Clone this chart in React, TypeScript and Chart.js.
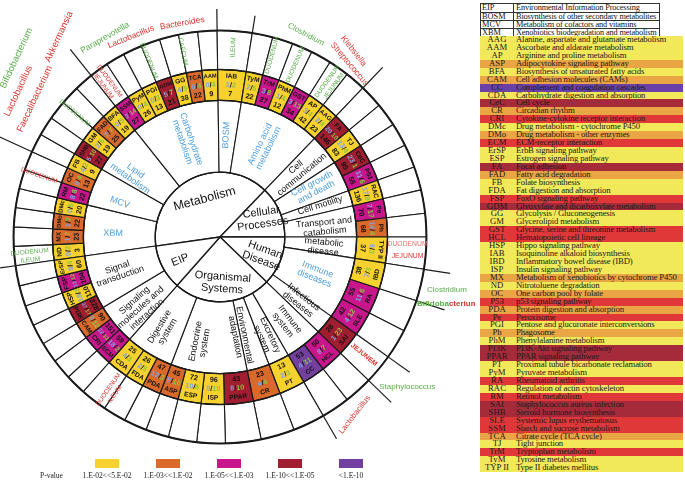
import React, { useEffect, useRef } from "react";
import { Chart, registerables } from "chart.js";

Chart.register(...registerables);

// ---------------- DATA ----------------
const categories = ["Metabolism", "Cellular Processes", "Human Disease", "Organismal Systems", "EIP"];
const categoryText = ["Metabolism", "Cellular\nProcesses", "Human\nDisease", "Organismal\nSystems", "EIP"];

const subcategories = [
  "XBM", "MCV", "Lipid metabolism", "Carbohydrate metabolism", "BOSM", "Amino acid metabolism",
  "Cell communication", "Cell growth and death", "Cell motility", "Transport and catabolism",
  "metabolic disease", "Immune diseases", "Infectious diseases",
  "Immune system", "Excretory system", "Environmental adaptation", "Endocrine system", "Digestive system",
  "Signaling molecules and interaction", "Signal transduction",
];
const subcategoryText = [
  "XBM", "MCV", "Lipid\nmetabolism", "Carbohydrate\nmetabolism", "BOSM", "Amino acid\nmetabolism",
  "Cell\ncommunication", "Cell growth\nand death", "Cell motility", "Transport and\ncatabolism",
  "metabolic\ndisease", "Immune\ndiseases", "Infectious\ndiseases",
  "Immune\nsystem", "Excretory\nsystem", "Environmental\nadaptation", "Endocrine\nsystem", "Digestive\nsystem",
  "Signaling\nmolecules and\ninteraction", "Signal\ntransduction",
];
const subcategoryParent = [0, 0, 0, 0, 0, 0, 1, 1, 1, 1, 2, 2, 2, 3, 3, 3, 3, 3, 4, 4];
const subcategoryBlue = [1, 1, 1, 1, 1, 1, 0, 1, 0, 0, 0, 1, 0, 0, 0, 0, 0, 0, 0, 0];

const pathways = [
  "ND", "MX", "DMo", "DMc", "RM", "OC", "FB", "SHB", "GM", "FAD", "BFA",
  "SSM", "PyM", "PGI", "GDM", "GG", "TCA", "AAM", "IAB",
  "TyM", "TrM", "PhM", "GST", "AP", "AAG",
  "FA", "TJ", "CeC", "P53", "RAC", "Pe", "Ph",
  "TYP II", "IBD", "RA", "SLE", "SAI",
  "HCL", "CC", "PT", "CR", "PPAR", "ISP", "ESP", "ASP", "PDA", "FDA", "CDA",
  "ECM", "CRI", "CAM", "PI3K", "HSP", "FSP", "ErSP",
];
const pathwaySub = [
  0, 0, 0, 0, 1, 1, 1, 2, 2, 2, 2,
  3, 3, 3, 3, 3, 3, 3, 4,
  5, 5, 5, 5, 5, 5,
  6, 6, 7, 7, 8, 9, 9,
  10, 11, 11, 11, 12,
  13, 13, 14, 15, 16, 16, 16, 16, 17, 17, 17,
  18, 18, 18, 19, 19, 19, 19,
];
// angular share of each cell (degrees)
const pathwaySpan = [
  5.4, 5.4, 5.4, 5.4, 5.4, 5.4, 5.4, 5.4, 5.4, 5.4, 5.4,
  5.4, 5.4, 5.4, 5.4, 5.4, 5.4, 5.4, 9.8,
  5.8, 5.8, 5.8, 5.8, 5.8, 5.8,
  6.6, 6.6, 6.6, 6.6, 6.6, 6.6, 6.6,
  9, 9, 9, 8.5, 8.5,
  8, 8, 9, 9.5, 10, 8, 8, 6.5, 6.5, 6.5, 7.5,
  5.8, 5.8, 5.8, 5.8, 5.8, 5.8, 5.7,
];
const countBlue = [
  0, 1, 1, 0, 8, 8, 4, 5, 2, 7, 0,
  2, 0, 0, 5, 4, 6, 0, 1,
  2, 3, 1, 3, 3, 2,
  20, 13, 23, 11, 17, 7, 14,
  6, 7, 11, 4, 1,
  8, 4, 2, 4, 8, 9, 10, 8, 12, 2, 4,
  18, 22, 8, 37, 18, 13, 9,
];
const countGreen = [
  2, 7, 7, 6, 8, 4, 2, 10, 6, 7, 5,
  14, 4, 3, 7, 5, 4, 4, 2,
  5, 8, 4, 13, 4, 4,
  10, 4, 1, 6, 8, 17, 4,
  3, 3, 6, 12, 23,
  7, 31, 3, 4, 10, 10, 6, 10, 3, 5, 3,
  2, 13, 12, 17, 2, 12, 4,
];
const geneTotal = [
  3, 23, 22, 20, 22, 13, 9, 27, 19, 25, 19,
  27, 26, 13, 21, 38, 22, 9, 7,
  22, 27, 12, 34, 42, 23,
  146, 83, 95, 55, 136, 70, 68,
  37, 38, 55, 42, 28,
  50, 53, 13, 23, 43, 96, 72, 45, 47, 26, 25,
  59, 151, 90, 228, 110, 104, 60,
];
// P-value class: 0 yellow, 1 orange, 2 magenta, 3 dark red, 4 purple
const pClass = [
  0, 1, 1, 0, 2, 1, 0, 3, 0, 1, 0,
  2, 0, 0, 3, 0, 1, 0, 0,
  0, 2, 0, 2, 0, 0,
  3, 0, 3, 2, 0, 2, 1,
  0, 0, 2, 2, 3,
  2, 4, 0, 1, 3, 0, 0, 1, 1, 0, 0,
  2, 2, 1, 3, 0, 2, 0,
];
const pClassLabels = ["1.E-02<<5.E-02", "1.E-03<<1.E-02", "1.E-05<<1.E-03", "1.E-10<<1.E-05", "<1.E-10"];

const headerAbbr = ["EIP", "BOSM", "MCV", "XBM"];
const headerName = [
  "Environmental Information Processing",
  "Biosynthesis of other secondary metabolites",
  "Metabolism of cofactors and vitamins",
  "Xenobiotics biodegradation and metabolism",
];
const tableAbbr = [
  "AAG", "AAM", "AP", "ASP", "BFA", "CAM", "CC", "CDA", "CeC", "CR", "CRI", "DMc", "DMo", "ECM", "ErSP",
  "ESP", "FA", "FAD", "FB", "FDA", "FSP", "GDM", "GG", "GM", "GST", "HCL", "HSP", "IAB", "IBD", "ISP",
  "MX", "ND", "OC", "P53", "PDA", "Pe", "PGI", "Ph", "PhM", "PI3K", "PPAR", "PT", "PyM", "RA", "RAC",
  "RM", "SAI", "SHB", "SLE", "SSM", "TCA", "TJ", "TrM", "TyM", "TYP II",
];
const tableName = [
  "Alanine, aspartate and glutamate metabolism", "Ascorbate and aldarate metabolism", "Arginine and proline metabolism",
  "Adipocytokine signaling pathway", "Biosynthesis of unsaturated fatty acids", "Cell adhesion molecules (CAMs)",
  "Complement and coagulation cascades", "Carbohydrate digestion and absorption", "Cell cycle", "Circadian rhythm",
  "Cytokine-cytokine receptor interaction", "Drug metabolism - cytochrome P450", "Drug metabolism - other enzymes",
  "ECM-receptor interaction", "ErbB signaling pathway", "Estrogen signaling pathway", "Focal adhesion",
  "Fatty acid degradation", "Folate biosynthesis", "Fat digestion and absorption", "FoxO signaling pathway",
  "Glyoxylate and dicarboxylate metabolism", "Glycolysis / Gluconeogenesis", "Glycerolipid metabolism",
  "Glycine, serine and threonine metabolism", "Hematopoietic cell lineage", "Hippo signaling pathway",
  "Isoquinoline alkaloid biosynthesis", "Inflammatory bowel disease (IBD)", "Insulin signaling pathway",
  "Metabolism of xenobiotics by cytochrome P450", "Nitrotoluene degradation", "One carbon pool by folate",
  "p53 signaling pathway", "Protein digestion and absorption", "Peroxisome", "Pentose and glucuronate interconversions",
  "Phagosome", "Phenylalanine metabolism", "PI3K-Akt signaling pathway", "PPAR signaling pathway",
  "Proximal tubule bicarbonate reclamation", "Pyruvate metabolism", "Rheumatoid arthritis",
  "Regulation of actin cytoskeleton", "Retinol metabolism", "Staphylococcus aureus infection",
  "Steroid hormone biosynthesis", "Systemic lupus erythematosus", "Starch and sucrose metabolism",
  "Citrate cycle (TCA cycle)", "Tight junction", "Tryptophan metabolism", "Tyrosine metabolism",
  "Type II diabetes mellitus",
];

// ---------------- STYLE ----------------
const ringColors = ["#f7d22e", "#da6a2c", "#c8168d", "#a01e2f", "#7440a0"];
const tableColors = ["#f2e95a", "#eaa544", "#e03838", "#a52b3b", "#6b40a8"];
const LINE = "#1a1a1a";
const SANS = '"Liberation Sans", Arial, sans-serif';
const SERIF = '"Liberation Serif", "Times New Roman", serif';
const SUB_BLUE = "#4e9edc";
const NUM_BLUE = "#7fa3e2";
const NUM_GREEN = "#8cc43e";
const G = "#5aad4b";
const R = "#d8352f";
const R2 = "#e5706c";

const categoryPlace = [
  { th: 338, r: 41, rot: -15, size: 12.5 },
  { th: 66, r: 46, rot: -8, size: 11 },
  { th: 113, r: 47, rot: 20, size: 11 },
  { th: 177, r: 46, rot: 4, size: 11 },
  { th: 240, r: 46, rot: -22, size: 11 },
];
// label placement (angle clockwise from north, radius) for each subcategory
const subLabelPlace = [
  [272, 107], [289, 106], [305.5, 107], [341, 102], [3.5, 102], [26, 101],
  [50, 103], [62.5, 106], [72.5, 105], [84.6, 105],
  [95.5, 104], [111, 103], [128.3, 103],
  [142, 108], [155.3, 110], [168.6, 101], [190.7, 107], [211.5, 108],
  [228.4, 106], [251, 107],
];
const extendAt = ["IAB", "TyM", "FA", "IBD", "RA", "SAI", "HCL", "PT", "ND", "FB", "SSM"];
const extendTo = [228, 224, 235, 233, 236, 233, 238, 233, 222, 245, 240];

type Seg = [string, string];
type OuterLabel = { th: number; r: number; rot?: number; size: number; weight?: string; lh?: number; lines: Seg[][] };
const outerLabels: OuterLabel[] = [
  { th: 4, r: 190, size: 6.5, lines: [[["ILEUM", G]]] },
  { th: 348.7, r: 189, size: 6.5, lines: [[["CAECUM", G]]] },
  { th: 338, r: 190, size: 6.5, lines: [[["DUODENUM", G]]] },
  { th: 323.5, r: 191, size: 6.5, lh: 8, lines: [[["DUODENUM", R]], [["JEJUNUM", R]]] },
  { th: 310.5, r: 191, size: 6.5, lines: [[["DUODENUM", G]]] },
  { th: 288.8, r: 191, size: 6.5, lines: [[["DUODENUM", R]]] },
  { th: 264.3, r: 191, size: 6.5, lh: 8, lines: [[["DUODENUM", G]], [["ILEUM", G]]] },
  { th: 16, r: 189, size: 6.5, lines: [[["DUODENUM", G]]] },
  { th: 23.6, r: 188, size: 6.5, lines: [[["DUODENUM", G]]] },
  { th: 35.8, r: 189, size: 6.5, lh: 8, lines: [[["DUODENUM", G]], [["JEJUNUM", G]]] },
  { th: 94, r: 188, rot: 0, size: 6.8, lh: 12, lines: [[["DUODENUM", R2]], [["JEJUNUM", R]]] },
  { th: 129.3, r: 186, size: 6.8, weight: "bold", lines: [[["JEJUNEM", R]]] },
  { th: 215, r: 189, size: 6.5, lh: 8, lines: [[["DUODENUM", R]], [["ILEUM", R]]] },
  { th: 350, r: 217, rot: -10, size: 8.5, lines: [[["Bacteroides", R]]] },
  { th: 336, r: 219, rot: -22, size: 8.5, lines: [[["Lactobacillus", R]]] },
  { th: 330, r: 230, rot: -30, size: 8.5, lines: [[["Paraprevotella", G]]] },
  { th: 23, r: 220, rot: 28, size: 8, lines: [[["Clostridium", G]]] },
  { th: 35.7, r: 229, rot: 52, size: 8.5, lines: [[["Klebsiella", R]]] },
  { th: 36.8, r: 216, rot: 50, size: 8.5, lines: [[["Streptococcus", R]]] },
  { th: 311.3, r: 271, rot: -65, size: 9.5, lines: [[["Bifidobacterium", G]]] },
  { th: 305.9, r: 249, rot: -65, size: 9.5, lines: [[["Lactobacillus", R]]] },
  { th: 321.2, r: 257, rot: -65, size: 9.5, lines: [[["Akkermansia", R]]] },
  { th: 306.7, r: 231, rot: -65, size: 9.5, lines: [[["Faecalibacterium", R]]] },
  { th: 103.1, r: 233, rot: 0, size: 8, lines: [[["Clostridium", G]]] },
  { th: 106.4, r: 237, rot: 0, size: 8, weight: "bold", lines: [[["Bifidoba", G], ["cterium", R]]] },
  { th: 128.7, r: 240, rot: 0, size: 8, lines: [[["Staphylococcus", G]]] },
  { th: 142.8, r: 223, rot: -52, size: 8, lines: [[["Lactobacillus", R]]] },
];

const legendBoxX = [95, 156, 217, 278, 339];

// ---------------- HELPERS ----------------
const deg = Math.PI / 180;
const norm = (t: number) => ((t % 360) + 360) % 360;
const arcTheta = (a: number) => norm(a / deg + 90);
const polar = (cx: number, cy: number, th: number, r: number) => [cx + r * Math.sin(th * deg), cy - r * Math.cos(th * deg)];
const radialRot = (t: number) => { t = norm(t); return t < 180 ? t - 90 : t - 270; };
const tangRot = (t: number) => { t = norm(t); return t > 97 && t < 244 ? t - 180 : t; };

function drawSegs(ctx: CanvasRenderingContext2D, segs: Seg[], x: number, y: number, rot: number, font: string, dy = 0) {
  ctx.save();
  ctx.translate(x, y);
  ctx.rotate(rot * deg);
  ctx.font = font;
  ctx.textAlign = "left";
  ctx.textBaseline = "middle";
  const w = segs.map((s) => ctx.measureText(s[0]).width);
  let cur = -w.reduce((a, b) => a + b, 0) / 2;
  segs.forEach((s, i) => {
    ctx.fillStyle = s[1];
    ctx.fillText(s[0], cur, dy);
    cur += w[i];
  });
  ctx.restore();
}
function fitFont(ctx: CanvasRenderingContext2D, segs: Seg[], size: number, avail: number, weight: string) {
  ctx.font = `${weight} ${size}px ${SANS}`;
  const w = segs.reduce((a, s) => a + ctx.measureText(s[0]).width, 0);
  if (w > avail) size = Math.max(4.6, (size * avail) / w);
  return `${weight} ${size.toFixed(2)}px ${SANS}`;
}

const ringTextPlugin = {
  id: "ringText",
  afterDatasetsDraw(chart: any) {
    const ctx: CanvasRenderingContext2D = chart.ctx;
    const m0 = chart.getDatasetMeta(0);
    const m1 = chart.getDatasetMeta(1);
    const m3 = chart.getDatasetMeta(3);
    const cx = m1.data[0].x;
    const cy = m1.data[0].y;
    const Rout = m0.data[0].outerRadius;

    ctx.save();
    ctx.strokeStyle = LINE;
    ctx.lineWidth = 2;
    ctx.beginPath(); ctx.arc(cx, cy, Rout, 0, 2 * Math.PI); ctx.stroke();
    ctx.lineWidth = 1.4;
    [m1.data[0].outerRadius, m1.data[0].innerRadius, m3.data[0].outerRadius].forEach((r: number) => {
      ctx.beginPath(); ctx.arc(cx, cy, r, 0, 2 * Math.PI); ctx.stroke();
    });
    ctx.lineWidth = 1.2;
    extendAt.forEach((name, k) => {
      const el = m0.data[pathways.indexOf(name)];
      const th = arcTheta(el.startAngle);
      const [x1, y1] = polar(cx, cy, th, Rout);
      const [x2, y2] = polar(cx, cy, th, extendTo[k]);
      ctx.beginPath(); ctx.moveTo(x1, y1); ctx.lineTo(x2, y2); ctx.stroke();
    });
    ctx.restore();

    // colored cells
    m1.data.forEach((el: any, i: number) => {
      const th = arcTheta((el.startAngle + el.endAngle) / 2);
      const rot = tangRot(th);
      const ri = el.innerRadius, ro = el.outerRadius;
      const avail = (el.endAngle - el.startAngle) * (ri + ro) / 2 - 1.5;
      const s1: Seg[] = [[pathways[i], "#111"]];
      const s2: Seg[] = [[String(countBlue[i]), NUM_BLUE], ["/", "#111"], [String(countGreen[i]), NUM_GREEN]];
      const s3: Seg[] = [[String(geneTotal[i]), "#111"]];
      let [x, y] = polar(cx, cy, th, ro - 6.5);
      drawSegs(ctx, s1, x, y, rot, fitFont(ctx, s1, 6.6, avail, "bold"));
      [x, y] = polar(cx, cy, th, (ri + ro) / 2);
      drawSegs(ctx, s2, x, y, rot, fitFont(ctx, s2, 7.2, avail, "bold"));
      [x, y] = polar(cx, cy, th, ri + 6.5);
      drawSegs(ctx, s3, x, y, rot, fitFont(ctx, s3, 7.2, avail, "bold"));
    });

    // subcategory labels
    subcategories.forEach((_, s) => {
      const [th, r] = subLabelPlace[s];
      const [x, y] = polar(cx, cy, th, r);
      const lines = subcategoryText[s].split("\n");
      const col = subcategoryBlue[s] ? SUB_BLUE : "#111";
      lines.forEach((l, j) => drawSegs(ctx, [[l, col]], x, y, radialRot(th), `9.1px ${SANS}`, (j - (lines.length - 1) / 2) * 9.4));
    });

    // main categories
    categories.forEach((_, c) => {
      const p = categoryPlace[c];
      const [x, y] = polar(cx, cy, p.th, p.r);
      const lines = categoryText[c].split("\n");
      lines.forEach((l, j) => drawSegs(ctx, [[l, "#111"]], x, y, p.rot, `${p.size}px ${SANS}`, (j - (lines.length - 1) / 2) * (p.size + 1)));
    });

    // outer labels
    outerLabels.forEach((lab) => {
      const [x, y] = polar(cx, cy, lab.th, lab.r);
      const rot = lab.rot === undefined ? radialRot(lab.th) : lab.rot;
      const lh = lab.lh ?? lab.size + 2;
      lab.lines.forEach((segs, j) =>
        drawSegs(ctx, segs, x, y, rot, `${lab.weight ?? "normal"} ${lab.size}px ${SANS}`, (j - (lab.lines.length - 1) / 2) * lh)
      );
    });

    // legend
    ctx.save();
    ctx.textBaseline = "middle";
    ctx.textAlign = "left";
    ctx.fillStyle = "#222";
    ctx.font = `7.5px ${SERIF}`;
    ctx.fillText("P-value", 40, 476);
    ctx.textAlign = "center";
    pClassLabels.forEach((lbl, k) => {
      ctx.fillStyle = ringColors[k];
      ctx.fillRect(legendBoxX[k], 459, 24, 9);
      ctx.fillStyle = "#222";
      ctx.fillText(lbl, legendBoxX[k] + 12, 476);
    });
    ctx.restore();
  },
};

export default function App() {
  const ref = useRef<HTMLCanvasElement>(null);
  useEffect(() => {
    const canvas = ref.current!;
    const subSpan = subcategories.map((_, s) => pathwaySpan.reduce((a, v, i) => a + (pathwaySub[i] === s ? v : 0), 0));
    const catSpan = categories.map((_, c) => subSpan.reduce((a, v, s) => a + (subcategoryParent[s] === c ? v : 0), 0));
    const chart = new Chart(canvas, {
      type: "pie",
      data: {
        labels: pathways,
        datasets: [
          { data: pathwaySpan, backgroundColor: "#ffffff", borderColor: LINE, borderWidth: 1.1, weight: 39 } as any,
          { data: pathwaySpan, backgroundColor: pClass.map((c) => ringColors[c]), borderColor: LINE, borderWidth: 1.2, weight: 31 } as any,
          { data: subSpan, backgroundColor: "#ffffff", borderColor: LINE, borderWidth: 1.1, weight: 72 } as any,
          { data: catSpan, backgroundColor: "#ffffff", borderColor: LINE, borderWidth: 1.3, weight: 65 } as any,
        ],
      },
      options: {
        responsive: false,
        animation: false,
        rotation: 262,
        events: [],
        layout: { padding: { left: 13, right: 48, top: 30, bottom: 38 } },
        plugins: { legend: { display: false }, tooltip: { enabled: false } },
      } as any,
      plugins: [ringTextPlugin as any],
    });
    return () => chart.destroy();
  }, []);

  const rowH = 7.93;
  return (
    <div style={{ position: "fixed", left: 0, top: 0, width: 685, height: 482, background: "#fff", overflow: "hidden", fontFamily: SERIF }}>
      <canvas ref={ref} width={475} height={482} style={{ position: "absolute", left: 0, top: 0, width: 475, height: 482 }} />
      <div style={{ position: "absolute", left: 480, top: 3, width: 180, height: 33.5, border: "1px solid #333", boxSizing: "border-box" }}>
        {headerAbbr.map((a, i) => (
          <div key={a} style={{ position: "absolute", left: 0, top: i * 8.1, width: 178, height: 8.1, borderTop: i ? "1px solid #333" : "none", boxSizing: "border-box", fontSize: 8.3, lineHeight: "7.4px", color: "#111", whiteSpace: "nowrap" }}>
            <span style={{ position: "absolute", left: 1, top: 0 }}>{a}</span>
            <span style={{ position: "absolute", left: 32, top: 0, height: 8.1, borderLeft: "1px solid #333" }} />
            <span style={{ position: "absolute", left: 35, top: 0, letterSpacing: -0.15 }}>{headerName[i]}</span>
          </div>
        ))}
      </div>
      {tableAbbr.map((a, i) => {
        const c = pClass[pathways.indexOf(a)];
        return (
          <div key={a} style={{ position: "absolute", left: 480, top: 36 + i * rowH, width: 203, height: rowH + 0.2, background: tableColors[c], fontSize: 8.7, lineHeight: `${rowH}px`, color: "#1a1a1a", whiteSpace: "nowrap" }}>
            <span style={{ position: "absolute", left: 0, width: 34, textAlign: "center" }}>{a}</span>
            <span style={{ position: "absolute", left: 36, letterSpacing: -0.15 }}>{tableName[i]}</span>
          </div>
        );
      })}
    </div>
  );
}
